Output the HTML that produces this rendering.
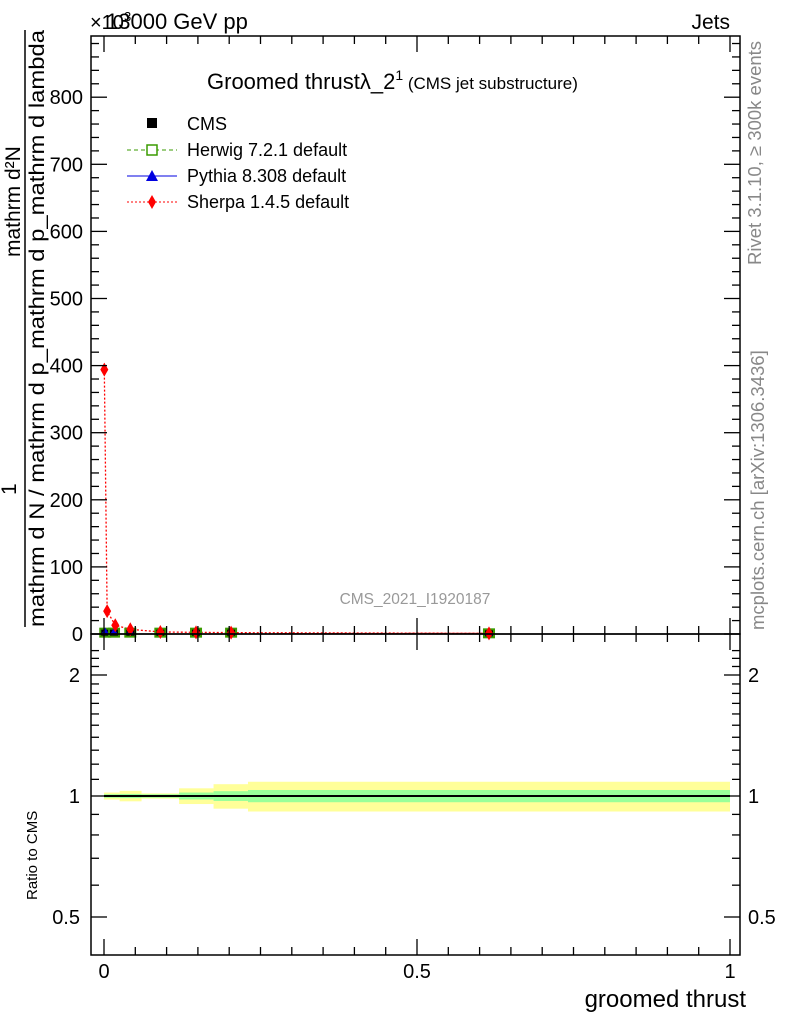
<!DOCTYPE html>
<html><head><meta charset="utf-8"><style>
body{margin:0;background:#fff}
svg{font-family:"Liberation Sans",sans-serif}
</style></head><body>
<svg id="c" width="786" height="1024" xmlns="http://www.w3.org/2000/svg">
<rect width="786" height="1024" fill="#fff"/>
<g id="bands"></g>
<g id="marks"></g>
<g id="axes" stroke="#000" fill="none"></g>
<g id="labels"></g>
<text x="90" y="29" font-size="20">×10<tspan font-size="13" dy="-8">3</tspan></text>
<text x="106" y="29" font-size="22">13000 GeV pp</text>
<text x="730" y="29" font-size="21" text-anchor="end">Jets</text>
<text x="207" y="89" font-size="22">Groomed thrustλ_2<tspan font-size="14" dy="-9">1</tspan><tspan font-size="17" dy="9"> (CMS jet substructure)</tspan></text>
<g font-size="18">
<rect x="147" y="118" width="10" height="10" fill="#000"/>
<text x="187" y="130">CMS</text>
<line x1="127" y1="150" x2="177" y2="150" stroke="#3a9b00" stroke-dasharray="4,3"/><rect x="147" y="145" width="10" height="10" fill="#fff" stroke="#3a9b00" stroke-width="1.5"/>
<text x="187" y="156">Herwig 7.2.1 default</text>
<line x1="127" y1="176" x2="177" y2="176" stroke="#0000e0"/><polygon points="152,170 158,181 146,181" fill="#0000e0"/>
<text x="187" y="182">Pythia 8.308 default</text>
<line x1="127" y1="202" x2="177" y2="202" stroke="#f00" stroke-dasharray="2,2"/><polygon points="152,195 156,202 152,209 148,202" fill="#f00"/>
<text x="187" y="208">Sherpa 1.4.5 default</text>
</g>
<text x="415" y="604" font-size="15.5" fill="#999" text-anchor="middle">CMS_2021_I1920187</text>
<text transform="translate(761,265) rotate(-90)" font-size="18.5" fill="#888">Rivet 3.1.10, ≥ 300k events</text>
<text transform="translate(764,630) rotate(-90)" font-size="18.5" fill="#888">mcplots.cern.ch [arXiv:1306.3436]</text>
<g font-size="21">
<text transform="translate(20,257) rotate(-90)">mathrm d²N</text>
<line x1="25" y1="30" x2="25" y2="627" stroke="#000" stroke-width="1.5"/>
<text transform="translate(44,627) rotate(-90)" textLength="597" lengthAdjust="spacingAndGlyphs">mathrm d N / mathrm d p_mathrm d p_mathrm d lambda</text>
<text transform="translate(16,495) rotate(-90)">1</text>
</g>
<text transform="translate(37,900) rotate(-90)" font-size="15">Ratio to CMS</text>
<text x="746" y="1007" font-size="24" text-anchor="end">groomed thrust</text>
</svg>
<script>
const pointsX=[0.002,0.016,0.042,0.09,0.147,0.203,0.615];
const sherpaY=[394,34,13,7,3,2.5,2,1];
const sherpaX=[0.0005,0.005,0.018,0.042,0.09,0.147,0.203,0.615];
const cmsY=[2,2,2,2,2,2,1];
const binEdges=[0,0.025,0.06,0.12,0.175,0.23,1.0];
const statErr=[0.01,0.012,0.01,0.02,0.028,0.035];
const totErr=[0.02,0.03,0.015,0.045,0.07,0.085];
const yTicks=[0,100,200,300,400,500,600,700,800];
const xTicks=[0,0.5,1];
const rTicks=[0.5,1,2];
const NS="http://www.w3.org/2000/svg";
const X0=91,X1=740,Y0=36,Y1=634,R1=955;
const xs=v=>104+v*626;
const ys=v=>634-v*0.671;
const rs=v=>796-Math.log2(v)*121;
function mk(tag,at,parent){const e=document.createElementNS(NS,tag);for(const k in at)e.setAttribute(k,at[k]);document.getElementById(parent).appendChild(e);return e;}
for(let i=0;i<statErr.length;i++){
 const a=xs(binEdges[i]),b=xs(binEdges[i+1]);
 let e=mk('rect',{x:a,y:rs(1+totErr[i]),width:b-a,height:rs(1-totErr[i])-rs(1+totErr[i]),fill:'#ffff99'},'bands');
 
 
 e=mk('rect',{x:a,y:rs(1+statErr[i]),width:b-a,height:rs(1-statErr[i])-rs(1+statErr[i]),fill:'#99ff99'},'bands');
 
 
}
let rl=mk('line',{x1:xs(0),x2:xs(1),y1:rs(1),y2:rs(1),stroke:'#000','stroke-width':2},'marks');


let d='';sherpaX.forEach((x,i)=>{d+=(i?'L':'M')+xs(x)+','+ys(sherpaY[i]);});
let pl=mk('path',{d:d+'L'+xs(0.28)+','+ys(0.5),stroke:'#f00','stroke-dasharray':'2,2',fill:'none','stroke-width':1.3},'marks');


pointsX.forEach((x,i)=>{
 const px=xs(x),py=ys(cmsY[i]);
 let r=mk('rect',{x:px-6,y:py-5,width:12,height:10,fill:'#3a9b00'},'marks');
 
 
 let c=mk('rect',{x:px-4,y:py-3,width:8,height:6,fill:'#000'},'marks');
 
 
 let t=mk('polygon',{points:`${px},${py-5} ${px+4},${py+2} ${px-4},${py+2}`,fill:'#0000e0'},'marks');
 
 
});
sherpaX.forEach((x,i)=>{
 const px=xs(x),py=ys(sherpaY[i]);
 let p=mk('polygon',{points:`${px},${py-7} ${px+4},${py} ${px},${py+7} ${px-4},${py}`,fill:'#f00'},'marks');
 
 
});
mk('rect',{x:X0,y:Y0,width:X1-X0,height:Y1-Y0,'stroke-width':1.5},'axes');
mk('rect',{x:X0,y:Y1,width:X1-X0,height:R1-Y1,'stroke-width':1.5},'axes');
for(let k=0;k<=20;k++){const v=k*0.05;const big=k%10==0;const L=big?16:8;
 for(const [yb,dir] of [[Y1,-1],[Y0,1],[R1,-1]]) mk('line',{x1:xs(v),x2:xs(v),y1:yb,y2:yb+dir*L,'stroke-width':1.3},'axes');
 mk('line',{x1:xs(v),x2:xs(v),y1:Y1,y2:Y1+L,'stroke-width':1.3},'axes');}
for(let v=0;v<=880;v+=20){const big=v%100==0;const L=big?16:8;
 mk('line',{x1:X0,x2:X0+L,y1:ys(v),y2:ys(v),'stroke-width':1.3},'axes');
 mk('line',{x1:X1,x2:X1-L,y1:ys(v),y2:ys(v),'stroke-width':1.3},'axes');}
for(let k=4;k<=23;k++){const r=k/10;const big=rTicks.includes(r);const L=big?16:8;const y=rs(r);if(y<Y1||y>R1)continue;
 mk('line',{x1:X0,x2:X0+L,y1:y,y2:y,'stroke-width':1.3},'axes');
 mk('line',{x1:X1,x2:X1-L,y1:y,y2:y,'stroke-width':1.3},'axes');}
yTicks.forEach(v=>{let t=mk('text',{x:83,y:ys(v)+7,'font-size':20,'text-anchor':'end'},'labels');t.textContent=v;
 
 });
xTicks.forEach(v=>{let t=mk('text',{x:xs(v),y:978,'font-size':20,'text-anchor':'middle'},'labels');t.textContent=v;
 
 });
rTicks.forEach(v=>{for(const [x,a] of [[80,'end'],[748,'start']]){let t=mk('text',{x:x,y:rs(v)+7,'font-size':20,'text-anchor':a},'labels');t.textContent=v;
 
 }});
</script>
</body></html>
